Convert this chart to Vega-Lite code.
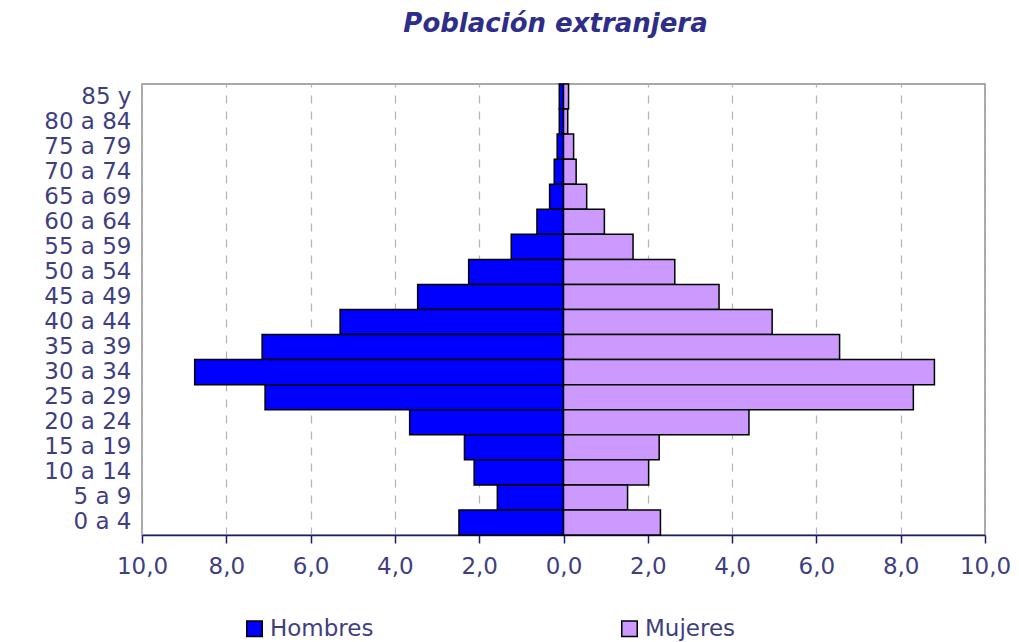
{
  "$schema": "https://vega.github.io/schema/vega-lite/v6.json",
  "width": 843,
  "height": 451,
  "autosize": {"type": "none"},
  "padding": {"left": 142, "top": 84, "right": 34, "bottom": 107},
  "background": "white",
  "title": {
    "text": "Población extranjera",
    "font": "DejaVu Sans",
    "fontSize": 26,
    "fontWeight": "bold",
    "fontStyle": "italic",
    "color": "#2e2e8a",
    "anchor": "middle",
    "offset": 46,
    "dx": -8
  },
  "config": {
    "view": {"stroke": "#8c8c8c", "strokeWidth": 1.5},
    "font": "DejaVu Sans"
  },
  "data": {
    "values": [
      {"edad": "85 y", "sexo": "Hombres", "valor": -0.1},
      {"edad": "85 y", "sexo": "Mujeres", "valor": 0.12},
      {"edad": "80 a 84", "sexo": "Hombres", "valor": -0.1},
      {"edad": "80 a 84", "sexo": "Mujeres", "valor": 0.1},
      {"edad": "75 a 79", "sexo": "Hombres", "valor": -0.15},
      {"edad": "75 a 79", "sexo": "Mujeres", "valor": 0.24},
      {"edad": "70 a 74", "sexo": "Hombres", "valor": -0.22},
      {"edad": "70 a 74", "sexo": "Mujeres", "valor": 0.3},
      {"edad": "65 a 69", "sexo": "Hombres", "valor": -0.33},
      {"edad": "65 a 69", "sexo": "Mujeres", "valor": 0.55},
      {"edad": "60 a 64", "sexo": "Hombres", "valor": -0.63},
      {"edad": "60 a 64", "sexo": "Mujeres", "valor": 0.97},
      {"edad": "55 a 59", "sexo": "Hombres", "valor": -1.24},
      {"edad": "55 a 59", "sexo": "Mujeres", "valor": 1.65},
      {"edad": "50 a 54", "sexo": "Hombres", "valor": -2.25},
      {"edad": "50 a 54", "sexo": "Mujeres", "valor": 2.64},
      {"edad": "45 a 49", "sexo": "Hombres", "valor": -3.46},
      {"edad": "45 a 49", "sexo": "Mujeres", "valor": 3.69},
      {"edad": "40 a 44", "sexo": "Hombres", "valor": -5.3},
      {"edad": "40 a 44", "sexo": "Mujeres", "valor": 4.95},
      {"edad": "35 a 39", "sexo": "Hombres", "valor": -7.15},
      {"edad": "35 a 39", "sexo": "Mujeres", "valor": 6.55},
      {"edad": "30 a 34", "sexo": "Hombres", "valor": -8.75},
      {"edad": "30 a 34", "sexo": "Mujeres", "valor": 8.8},
      {"edad": "25 a 29", "sexo": "Hombres", "valor": -7.08},
      {"edad": "25 a 29", "sexo": "Mujeres", "valor": 8.3},
      {"edad": "20 a 24", "sexo": "Hombres", "valor": -3.65},
      {"edad": "20 a 24", "sexo": "Mujeres", "valor": 4.4},
      {"edad": "15 a 19", "sexo": "Hombres", "valor": -2.35},
      {"edad": "15 a 19", "sexo": "Mujeres", "valor": 2.27},
      {"edad": "10 a 14", "sexo": "Hombres", "valor": -2.12},
      {"edad": "10 a 14", "sexo": "Mujeres", "valor": 2.02},
      {"edad": "5 a 9", "sexo": "Hombres", "valor": -1.57},
      {"edad": "5 a 9", "sexo": "Mujeres", "valor": 1.52},
      {"edad": "0 a 4", "sexo": "Hombres", "valor": -2.48},
      {"edad": "0 a 4", "sexo": "Mujeres", "valor": 2.3}
    ]
  },
  "mark": {"type": "bar", "stroke": "#000000", "strokeWidth": 1.5, "opacity": 1},
  "encoding": {
    "y": {
      "field": "edad",
      "type": "nominal",
      "sort": null,
      "scale": {"paddingInner": 0, "paddingOuter": 0},
      "axis": {
        "title": null,
        "ticks": false,
        "domain": false,
        "labelFont": "DejaVu Sans",
        "labelFontSize": 23,
        "labelColor": "#3f3f7f",
        "labelPadding": 11,
        "labelBaseline": "middle"
      }
    },
    "x": {
      "field": "valor",
      "type": "quantitative",
      "stack": null,
      "scale": {"domain": [-10, 10], "nice": false},
      "axis": {
        "title": null,
        "values": [-10, -8, -6, -4, -2, 0, 2, 4, 6, 8, 10],
        "labelExpr": "replace(format(abs(datum.value), '.1f'), '.', ',')",
        "labelFont": "DejaVu Sans",
        "labelFontSize": 23,
        "labelColor": "#3f3f7f",
        "labelPadding": 12,
        "tickSize": 8,
        "tickColor": "#1a1a6e",
        "tickWidth": 1.5,
        "domainColor": "#1a1a6e",
        "domainWidth": 1.5,
        "grid": true,
        "gridColor": "#b3b3b3",
        "gridDash": [8, 8],
        "gridWidth": 1.2,
        "labelFlush": false
      }
    },
    "color": {
      "field": "sexo",
      "type": "nominal",
      "scale": {"domain": ["Hombres", "Mujeres"], "range": ["#0000ff", "#cc99ff"]},
      "legend": {
        "title": null,
        "orient": "none",
        "direction": "horizontal",
        "legendX": 101,
        "legendY": 533,
        "symbolType": "square",
        "symbolSize": 240,
        "symbolStrokeColor": "#000000",
        "symbolStrokeWidth": 1.5,
        "labelFont": "DejaVu Sans",
        "labelFontSize": 23,
        "labelColor": "#3f3f7f",
        "labelOffset": 4,
        "columnPadding": 244
      }
    }
  }
}
